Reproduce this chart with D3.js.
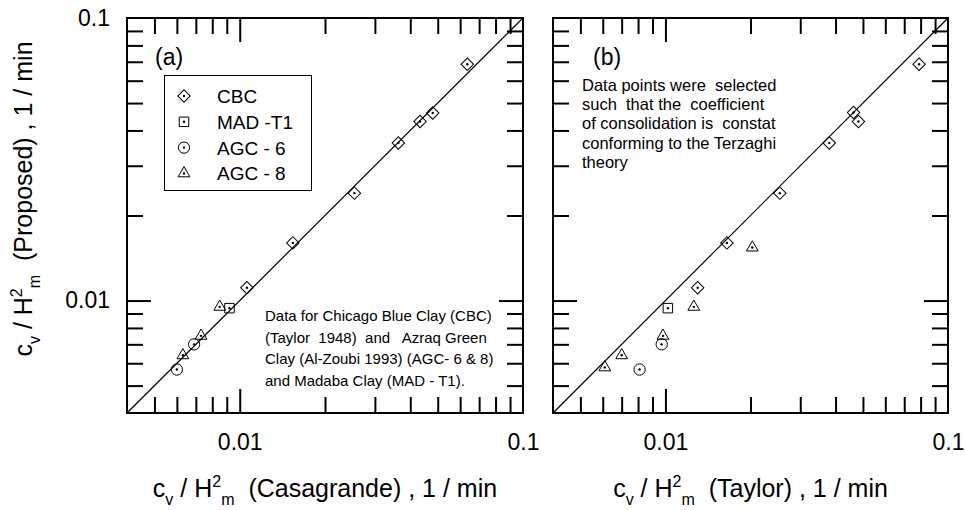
<!DOCTYPE html>
<html>
<head>
<meta charset="utf-8">
<script src="https://cdn.jsdelivr.net/npm/d3@7"></script>
<style>
  body { margin: 0; background: #fff; }
  svg { font-family: "Liberation Sans", Arial, sans-serif; }
  text { white-space: pre; }
</style>
</head>
<body>
<div id="chart"></div>
<script>
// panel (a): Casagrande vs proposed
var cbcA_x = [0.0636, 0.048, 0.0433, 0.0363, 0.0254, 0.0154, 0.0106];
var cbcA_y = [0.0686, 0.0461, 0.043, 0.0361, 0.024, 0.016, 0.0111];
var madA_x = [0.0092];
var madA_y = [0.0094];
var agc6A_x = [0.0069, 0.0060];
var agc6A_y = [0.0070, 0.0057];
var agc8A_x = [0.0085, 0.0073, 0.0063];
var agc8A_y = [0.0095, 0.0075, 0.0064];

// panel (b): Taylor vs proposed
var cbcB_x = [0.079, 0.0463, 0.0482, 0.038, 0.0254, 0.0165, 0.0130];
var cbcB_y = [0.0686, 0.0463, 0.043, 0.0361, 0.024, 0.016, 0.0111];
var madB_x = [0.0102];
var madB_y = [0.0094];
var agc6B_x = [0.0097, 0.0081];
var agc6B_y = [0.0070, 0.0057];
var agc8B_x = [0.0203, 0.0126, 0.0098, 0.0070, 0.0061];
var agc8B_y = [0.0154, 0.0095, 0.0075, 0.0064, 0.0058];

var domain = [0.004, 0.1];
var majorTicks = [0.01, 0.1];
var minorTicks = [0.005, 0.006, 0.007, 0.008, 0.009, 0.02, 0.03, 0.04, 0.05, 0.06, 0.07, 0.08, 0.09];
var tickLabels = ["0.01", "0.1"];
var legendNames = ["CBC", "MAD -T1", "AGC - 6", "AGC - 8"];

var W = 965, H = 510;
var svg = d3.select("#chart").append("svg").attr("width", W).attr("height", H);

var symbols = {
  diamond: d3.symbol().type(d3.symbolSquare).size(78),
  square: d3.symbol().type(d3.symbolSquare).size(90),
  circle: d3.symbol().type(d3.symbolCircle).size(100),
  triangle: d3.symbol().type(d3.symbolTriangle).size(60)
};
var kinds = ["diamond", "square", "circle", "triangle"];

function drawMarker(g, kind, cx, cy) {
  var m = g.append("g").attr("transform", "translate(" + cx + "," + cy + ")");
  m.append("path")
    .attr("d", symbols[kind]())
    .attr("transform", kind == "diamond" ? "rotate(45)" : null)
    .attr("fill", "none").attr("stroke", "#000").attr("stroke-width", 1);
  m.append("circle").attr("r", 1.2).attr("fill", "#000");
}

// c_v / H^2_m  (...) , 1 / min
function titleText(sel, name) {
  sel.append("tspan").text("c");
  sel.append("tspan").attr("font-size", 16).attr("dy", 8).text("v");
  sel.append("tspan").attr("dy", -8).text(" / H");
  sel.append("tspan").attr("font-size", 16).attr("dy", -10).text("2");
  sel.append("tspan").attr("font-size", 16).attr("dy", 18).text("m");
  sel.append("tspan").attr("dy", -8).text("  (" + name + ") , 1 / min");
}

function panel(x0, x1, series, opts) {
  var y0 = 18, y1 = 413;
  var x = d3.scaleLog().domain(domain).range([x0, x1]);
  var y = d3.scaleLog().domain(domain).range([y1, y0]);
  var g = svg.append("g");

  // ticks on all four sides, pointing in
  var sides = [
    [d3.axisBottom(x), "translate(0," + y1 + ")"],
    [d3.axisTop(x), "translate(0," + y0 + ")"],
    [d3.axisLeft(y), "translate(" + x0 + ",0)"],
    [d3.axisRight(y), "translate(" + x1 + ",0)"]
  ];
  sides.forEach(function(s) {
    g.append("g").attr("transform", s[1])
      .call(s[0].tickValues(minorTicks).tickSize(-16).tickFormat(""))
      .call(function(a) { a.select(".domain").remove(); a.selectAll("line").attr("stroke-width", 2); });
    g.append("g").attr("transform", s[1])
      .call(s[0].tickValues([0.01]).tickSize(-24).tickFormat(""))
      .call(function(a) { a.select(".domain").remove(); a.selectAll("line").attr("stroke-width", 2); });
  });

  // tick labels
  var xl = g.append("g").attr("transform", "translate(0," + y1 + ")")
    .call(d3.axisBottom(x).tickValues(majorTicks).tickSize(0).tickPadding(21)
      .tickFormat(function(d, i) { return tickLabels[i]; }));
  xl.select(".domain").remove();
  xl.selectAll("text").attr("font-size", 23).attr("font-family", null);

  if (opts.yLabels) {
    var yl = g.append("g").attr("transform", "translate(" + x0 + ",0)")
      .call(d3.axisLeft(y).tickValues(majorTicks).tickSize(0).tickPadding(17)
        .tickFormat(function(d, i) { return tickLabels[i]; }));
    yl.select(".domain").remove();
    yl.selectAll("text").attr("font-size", 23).attr("font-family", null);
  }

  // 1:1 line
  g.append("line")
    .attr("x1", x(domain[0])).attr("y1", y(domain[0]))
    .attr("x2", x(domain[1])).attr("y2", y(domain[1]))
    .attr("stroke", "#000").attr("stroke-width", 1.2);

  // frame
  g.append("rect").attr("x", x0).attr("y", y0).attr("width", x1 - x0).attr("height", y1 - y0)
    .attr("fill", "none").attr("stroke", "#000").attr("stroke-width", 2);

  // points
  series.forEach(function(s, k) {
    s[0].forEach(function(v, i) { drawMarker(g, kinds[k], x(v), y(s[1][i])); });
  });

  // panel letter
  g.append("text").attr("x", opts.letterX).attr("y", 65).attr("font-size", 23).text(opts.letter);

  // axis title
  var t = g.append("text").attr("x", (x0 + x1) / 2).attr("y", 497)
    .attr("text-anchor", "middle").attr("font-size", 25);
  titleText(t, opts.title);

  return g;
}

var ga = panel(127, 523,
  [[cbcA_x, cbcA_y], [madA_x, madA_y], [agc6A_x, agc6A_y], [agc8A_x, agc8A_y]],
  { yLabels: true, letter: "(a)", letterX: 155, title: "Casagrande" });

var gb = panel(553, 948,
  [[cbcB_x, cbcB_y], [madB_x, madB_y], [agc6B_x, agc6B_y], [agc8B_x, agc8B_y]],
  { yLabels: false, letter: "(b)", letterX: 593, title: "Taylor" });

// legend
var leg = ga.append("g");
leg.append("rect").attr("x", 164.5).attr("y", 75.5).attr("width", 147).attr("height", 115)
  .attr("fill", "#fff").attr("stroke", "#000").attr("stroke-width", 1);
legendNames.forEach(function(n, i) {
  var cy = 96 + i * 25.8;
  drawMarker(leg, kinds[i], 184, cy);
  leg.append("text").attr("x", 217).attr("y", cy + 7).attr("font-size", 19).text(n);
});

// notes
var noteA = ["Data for Chicago Blue Clay (CBC)", "(Taylor  1948)  and   Azraq Green",
  "Clay (Al-Zoubi 1993) (AGC- 6 & 8)", "and Madaba Clay (MAD - T1)."];
noteA.forEach(function(s, i) {
  ga.append("text").attr("x", 265).attr("y", 321 + i * 21.7).attr("font-size", 15).text(s);
});
var noteB = ["Data points were  selected", "such  that the  coefficient",
  "of consolidation is  constat", "conforming to the Terzaghi", "theory"];
noteB.forEach(function(s, i) {
  gb.append("text").attr("x", 582).attr("y", 91 + i * 19.2).attr("font-size", 16.5).text(s);
});

// y title
var yt = svg.append("text").attr("transform", "translate(32,199) rotate(-90)")
  .attr("text-anchor", "middle").attr("font-size", 25);
titleText(yt, "Proposed");
yt.select("tspan:last-child").text("  (Proposed) , 1 / min");
</script>
</body>
</html>
